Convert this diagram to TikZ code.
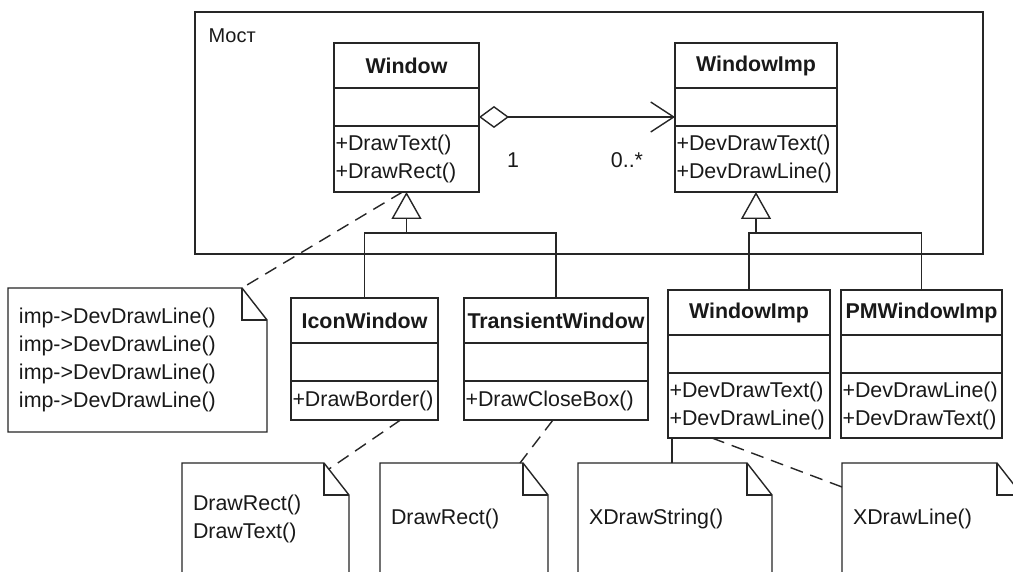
\documentclass[tikz,border=0pt]{standalone}
\usepackage{fontspec}
\setmainfont{Liberation Sans}
\usepackage{tikz}
\usetikzlibrary{arrows.meta, positioning}
\newcommand\diafont{\fontsize{21.4pt}{28pt}\selectfont}
\tikzset{%
	line/.style = {
		draw=black!85, line width=1.4pt
	},
	classname/.style = {
		rectangle, line, font=\diafont\bfseries,
		minimum width=#1, minimum height=45pt,
		inner sep=0pt, outer sep=0pt
	},
	attrs/.style = {
		rectangle, line,
		minimum width=#1, minimum height=38pt,
		inner sep=0pt, outer sep=0pt
	},
	ops/.style 2 args = {
		rectangle, line, align=left,
		text width=#1, minimum height=#2,
		inner xsep=1.5pt, inner ysep=0pt, outer sep=0pt
	},
	note/.style 2 args = {
		rectangle, align=left, anchor=north west,
		text width=#1, minimum height=#2,
		inner xsep=11pt, inner ysep=0pt, outer sep=0pt,
		append after command={\pgfextra{%
			\draw[line] (\tikzlastnode.north west) -- ([xshift=-25pt]\tikzlastnode.north east)
				-- ([yshift=-32pt]\tikzlastnode.north east) -- (\tikzlastnode.south east)
				-- (\tikzlastnode.south west) -- cycle;
			\draw[line] ([xshift=-25pt]\tikzlastnode.north east) |- ([yshift=-32pt]\tikzlastnode.north east);}}
	},
	dep/.style = {line, dash pattern=on 13pt off 8pt},
	inherit/.style = {line, -{Triangle[open, length=27pt, width=30pt]}}
}

\begin{document}
\begin{tikzpicture}[x=1pt, y=-1pt, every node/.style={font=\diafont, text=black!90}]
    \useasboundingbox (0,0) rectangle (1013,572);
    \clip (0,0) rectangle (1013,572);
    \fill[white] (0,0) rectangle (1013,572);

    % Package frame
    \draw[line] (195,12) rectangle (983,254);
    \node (pkg)      [anchor=west, font=\fontsize{20pt}{24pt}\selectfont] at (205,36) {Мост};

    % Classes inside the package
    \node (win)      [classname=145pt]                         at (406.5,65.5) {Window};
    \node (win-a)    [attrs=145pt, below=0pt of win]           {};
    \node (win-o)    [ops={142pt}{66pt}, below=0pt of win-a]   {+DrawText()\\+DrawRect()};

    \node (impl)     [classname=162pt]                         at (756,65.5) {WindowImp};
    \node (impl-a)   [attrs=162pt, below=0pt of impl]          {};
    \node (impl-o)   [ops={159pt}{66pt}, below=0pt of impl-a]  {+DevDrawText()\\+DevDrawLine()};

    \node (m-one)    at (513,160) {1};
    \node (m-many)   at (627,160) {0..*};

    % Subclasses
    \node (icon)     [classname=147pt]                         at (364.5,320.5) {IconWindow};
    \node (icon-a)   [attrs=147pt, below=0pt of icon]          {};
    \node (icon-o)   [ops={144pt}{39pt}, below=0pt of icon-a]  {+DrawBorder()};

    \node (trans)    [classname=184pt]                         at (556,320.5) {TransientWindow};
    \node (trans-a)  [attrs=184pt, below=0pt of trans]         {};
    \node (trans-o)  [ops={181pt}{39pt}, below=0pt of trans-a] {+DrawCloseBox()};

    \node (ximp)     [classname=162pt]                         at (749,312.5) {WindowImp};
    \node (ximp-a)   [attrs=162pt, below=0pt of ximp]          {};
    \node (ximp-o)   [ops={159pt}{65pt}, below=0pt of ximp-a]  {+DevDrawText()\\+DevDrawLine()};

    \node (pmimp)    [classname=161pt]                         at (921.5,312.5) {PMWindowImp};
    \node (pmimp-a)  [attrs=161pt, below=0pt of pmimp]         {};
    \node (pmimp-o)  [ops={158pt}{65pt}, below=0pt of pmimp-a] {+DevDrawLine()\\+DevDrawText()};

    % Notes
    \node (n-win)    [note={237pt}{144pt}] at (8,288)   {imp->DevDrawLine()\\imp->DevDrawLine()\\imp->DevDrawLine()\\imp->DevDrawLine()};
    \node (n-icon)   [note={145pt}{112pt}] at (182,463) {DrawRect()\\DrawText()};
    \node (n-trans)  [note={146pt}{112pt}] at (380,463) {DrawRect()};
    \node (n-xstr)   [note={172pt}{112pt}] at (578,463) {XDrawString()};
    \node (n-xline)  [note={158pt}{112pt}] at (842,463) {XDrawLine()};

    % Aggregation
    \draw[line, {Diamond[open, length=30pt, width=22pt]}-{Straight Barb[length=23pt, width=30pt]}]
        ([yshift=-10pt]win-a.east) -- ([yshift=-10pt]impl-a.west);

    % Generalization
    \coordinate (winbar)  at (406.5,233);
    \coordinate (implbar) at (756,233);
    \draw[inherit]           (winbar) -- (win-o.south);
    \draw[line]              (icon.north) |- (winbar) -| (trans.north);
    \draw[inherit]           (implbar) -- (impl-o.south);
    \draw[line]              (ximp.north) |- (implbar) -| (pmimp.north);

    % Note links
    \draw[dep]  ([xshift=-4pt]win-o.south) -- ([xshift=-25pt]n-win.north east);
    \draw[dep]  ([xshift=36pt]icon-o.south) -- ([xshift=-20pt,yshift=-6pt]n-icon.north east);
    \draw[dep]  ([xshift=-3pt]trans-o.south) -- ([xshift=-28pt]n-trans.north east);
    \draw[line] ([xshift=4pt]ximp-o.south west) -- ([xshift=94pt]n-xstr.north west);
    \draw[dep]  ([xshift=-37pt]ximp-o.south) -- ([yshift=-24pt]n-xline.north west);

\end{tikzpicture}
\end{document}
